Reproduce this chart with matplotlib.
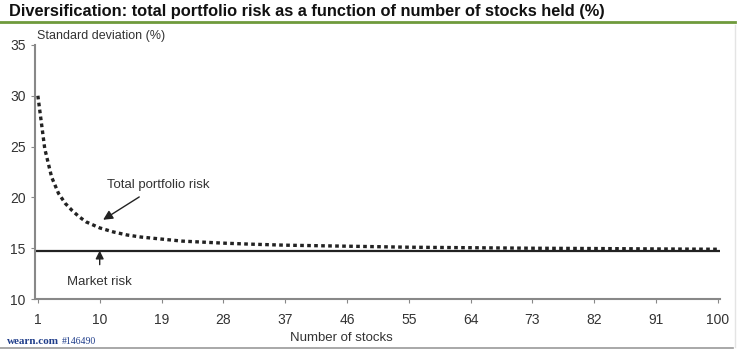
import matplotlib
matplotlib.use('Agg')
import matplotlib.pyplot as plt

plt.rcParams['font.family'] = ['Liberation Sans', 'DejaVu Sans']

# values
n_stocks = [1, 2, 3, 4, 5, 6, 7, 8, 9, 10, 12, 14, 16, 19, 22, 25, 28, 32, 37,
            46, 55, 64, 73, 82, 91, 100]
total_risk = [30.0, 24.8, 22.0, 20.4, 19.4, 18.7, 18.1, 17.6, 17.3, 17.0, 16.6,
              16.3, 16.1, 15.9, 15.7, 15.6, 15.5, 15.4, 15.3, 15.2, 15.1, 15.05,
              15.0, 14.97, 14.93, 14.9]
market_risk = 14.75
xticks = [1, 10, 19, 28, 37, 46, 55, 64, 73, 82, 91, 100]
yticks = [10, 15, 20, 25, 30, 35]

fig = plt.figure(figsize=(7.4, 3.51), dpi=100)
ax = fig.add_axes([0.047, 0.148, 0.926, 0.724])

ax.plot(n_stocks, total_risk, color='#222222', lw=2.4, ls=(0, (1.1, 1.0)))
ax.axhline(market_risk, color='#222222', lw=1.6)

ax.set_xlim(0.55, 100.3)
ax.set_ylim(10, 35)
ax.set_xticks(xticks)
ax.set_yticks(yticks)
for s in ['top', 'right']:
    ax.spines[s].set_visible(False)
for s in ['left', 'bottom']:
    ax.spines[s].set_color('#888888')
    ax.spines[s].set_linewidth(1.5)
ax.tick_params(colors='#888888', labelcolor='#333333', labelsize=10, length=3)
ax.tick_params(axis='x', pad=7)

ax.text(0.003, 1.01, 'Standard deviation (%)', transform=ax.transAxes,
        fontsize=9, color='#333333', va='bottom', ha='left')
ax.set_xlabel('Number of stocks', fontsize=9.5, color='#333333')
ax.xaxis.set_label_coords(0.448, -0.13)

ax.annotate('Total portfolio risk', xy=(10.5, 17.8), xytext=(11, 21.2),
            fontsize=9.5, color='#333333', ha='left', va='center',
            arrowprops=dict(arrowstyle='-|>', color='#222222', lw=1.0,
                            shrinkA=4, shrinkB=0, mutation_scale=14))
ax.annotate('Market risk', xy=(10, 14.9), xytext=(10, 11.7),
            fontsize=9.5, color='#333333', ha='center', va='center',
            arrowprops=dict(arrowstyle='-|>', color='#222222', lw=1.0,
                            shrinkA=6, shrinkB=1, mutation_scale=12))

fig.text(0.012, 0.968, 'Diversification: total portfolio risk as a function of number of stocks held (%)',
         fontsize=11.8, fontweight='bold', color='#111111', va='center')
fig.add_artist(plt.Line2D([0.0, 0.993], [0.936, 0.936], color='#6f9a3c', lw=2,
                          transform=fig.transFigure))
fig.text(0.009, 0.027, 'wearn.com', fontsize=8, fontweight='bold', color='#1f3d8a',
         family='Liberation Serif', va='center')
fig.text(0.084, 0.027, '#146490', fontsize=7, color='#1f3d8a',
         family='Liberation Serif', va='center')
fig.add_artist(plt.Line2D([0.0, 0.99], [0.008, 0.008], color='#999999', lw=1.2,
                          transform=fig.transFigure))
fig.add_artist(plt.Line2D([0.993, 0.993], [0.01, 0.93], color='#e4e4e4', lw=1,
                          transform=fig.transFigure))

fig.savefig('out.png', dpi=100)
